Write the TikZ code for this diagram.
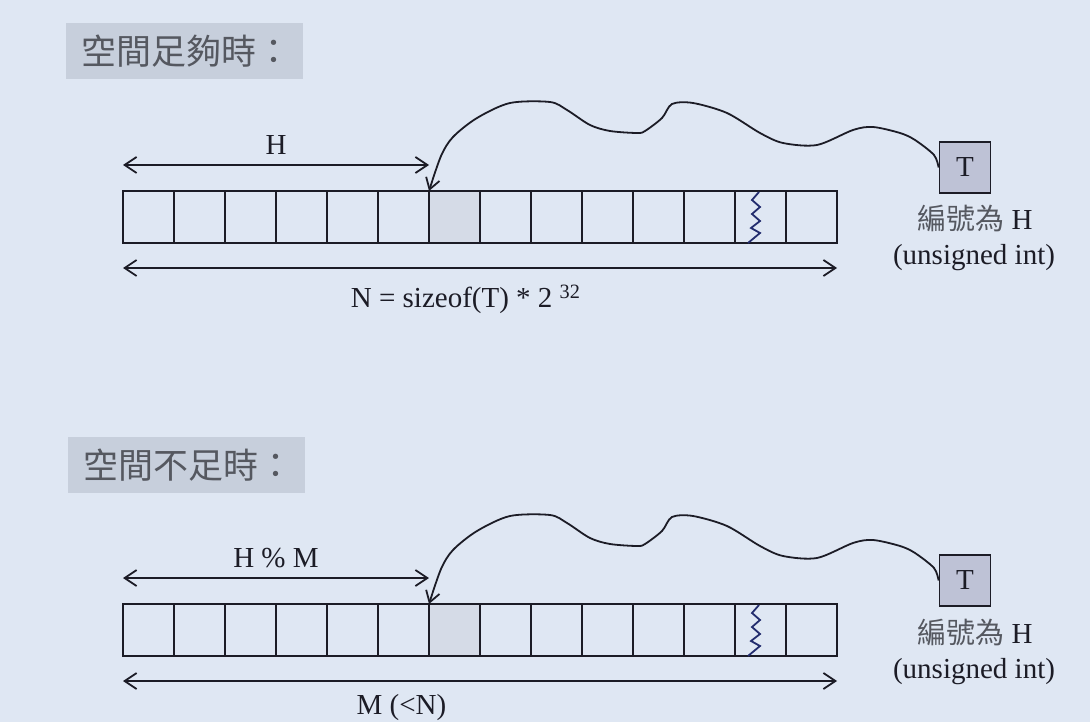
\documentclass[tikz,border=0pt]{standalone}
\usepackage{fontspec}
\setmainfont{Liberation Serif}
\newfontfamily\cjk{Noto Sans CJK TC}
\usepackage{tikz}
\usetikzlibrary{arrows.meta,positioning,calc}
\usepackage{xcolor}

\definecolor{slidebg}{RGB}{223,231,243}
\definecolor{titlefill}{RGB}{199,207,220}
\definecolor{titleink}{RGB}{85,88,96}
\definecolor{hitfill}{RGB}{213,219,231}
\definecolor{keyfill}{RGB}{190,194,214}
\definecolor{ink}{RGB}{28,28,38}
\definecolor{squigblue}{RGB}{35,45,110}

\begin{document}
\begin{tikzpicture}[
    x=1pt, y=-1pt,
    cell/.style={rectangle, draw=ink, line width=1.8pt, minimum width=51pt, minimum height=52pt, inner sep=0pt, outer sep=0pt},
    hitcell/.style={cell, fill=hitfill},
    titlebox/.style={rectangle, fill=titlefill, text=titleink, minimum width=237pt, minimum height=56pt, text width=207pt, inner xsep=15pt, align=left, font=\cjk\fontsize{35}{40}\selectfont},
    keybox/.style={rectangle, draw=ink, fill=keyfill, line width=1.8pt, minimum size=51pt, inner sep=0pt, text=ink, font=\fontsize{29}{34}\selectfont},
    dim/.style={{Straight Barb[length=12pt,width=16pt]}-{Straight Barb[length=12pt,width=16pt]}, line width=1.8pt, draw=ink},
    link/.style={-{Straight Barb[length=11pt,width=14pt]}, line width=1.8pt, draw=ink},
    caption/.style={font=\fontsize{29}{34}\selectfont, text=ink},
    cjkcap/.style={font=\fontsize{29}{34}\selectfont, text=titleink},
    squig/.style={draw=squigblue, line width=1.8pt}
]

% Slide background
\fill[slidebg] (0,0) rectangle (1090,722);
\useasboundingbox (0,0) rectangle (1090,722);

% Titles
\node[titlebox, anchor=north west] (title1) at (66,23) {空間足夠時：};
\node[titlebox, anchor=north west] (title2) at (68,437) {空間不足時：};

% Enough space: table of size N
\foreach \i in {1,...,14}
  \node[cell] (a\i) at (97.5+51*\i, 217) {};
\node[hitcell] (ahit) at (a7) {};
\draw[squig] (759,192) -- (752,200) -- (760,207) -- (752,214) -- (760,221) -- (751,228) -- (760,233) -- (748,243);

\node[keybox] (T) at (965,167.5) {T};
\node[cjkcap, anchor=base] (tnum) at (975,230) {{\cjk 編號為} {\color{ink}H}};
\node[caption, anchor=base] (ttype) at (974,265) {(unsigned int)};

\draw[dim] ([yshift=26pt]a1.north west) -- node[caption, above=6pt] (hlen) {H} ([yshift=26pt]a7.north west);
\draw[dim] ([yshift=-25pt]a1.south west) -- node[caption, below=13pt, pos=0.48] (nlen) {N = sizeof(T) * 2 \textsuperscript{32}} ([yshift=-25pt]a14.south east);

\draw[link] plot[smooth, tension=0.5] coordinates {(T.west) (934,155) (915,140) (900,133) (873,127) (853,130) (817,145) (783,143) (760,133) (727,113) (693,103) (672,104) (662,118) (645,131) (637,133) (610,131) (590,125) (567,110) (550,102) (510,103) (477,118) (453,137) (441,156) (a7.north west)};

% Not enough space: table of size M
\begin{scope}[yshift=-413pt]
\foreach \i in {1,...,14}
  \node[cell] (b\i) at (97.5+51*\i, 217) {};
\node[hitcell] (bhit) at (b7) {};
\draw[squig] (759,192) -- (752,200) -- (760,207) -- (752,214) -- (760,221) -- (751,228) -- (760,233) -- (748,243);

\node[keybox] (Tb) at (965,167.5) {T};
\node[cjkcap, anchor=base] (tbnum) at (975,230) {{\cjk 編號為} {\color{ink}H}};
\node[caption, anchor=base] (tbtype) at (974,265) {(unsigned int)};

\draw[dim] ([yshift=26pt]b1.north west) -- node[caption, above=6pt] (hmlen) {H \% M} ([yshift=26pt]b7.north west);
\draw[dim] ([yshift=-25pt]b1.south west) -- node[caption, below=9pt, pos=0.39] (mlen) {M (<N)} ([yshift=-25pt]b14.south east);

\draw[link] plot[smooth, tension=0.5] coordinates {(Tb.west) (934,155) (915,140) (900,133) (873,127) (853,130) (817,145) (783,143) (760,133) (727,113) (693,103) (672,104) (662,118) (645,131) (637,133) (610,131) (590,125) (567,110) (550,102) (510,103) (477,118) (453,137) (441,156) (b7.north west)};
\end{scope}

\end{tikzpicture}
\end{document}
